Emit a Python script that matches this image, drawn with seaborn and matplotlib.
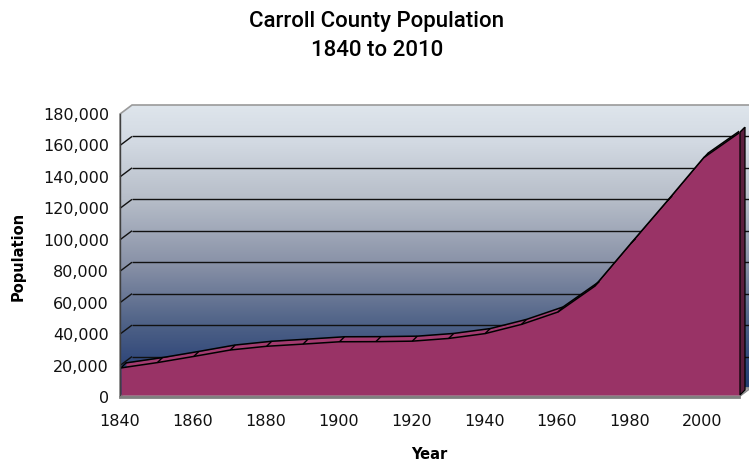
import numpy as np
import matplotlib
matplotlib.use("Agg")
import matplotlib.pyplot as plt
import seaborn as sns
from matplotlib.colors import LinearSegmentedColormap
from matplotlib.patches import Polygon
from matplotlib.collections import LineCollection
from matplotlib.transforms import ScaledTranslation, IdentityTransform
import matplotlib.ticker as mticker

# Census counts, Carroll County
years = [1840, 1850, 1860, 1870, 1880, 1890, 1900, 1910, 1920,
         1930, 1940, 1950, 1960, 1970, 1980, 1990, 2000, 2010]
population = [17241, 20616, 24533, 28619, 30992, 32376, 33860, 33934, 34245,
              35978, 39054, 44907, 52785, 69006, 96356, 123372, 150897, 167134]

y_ticks = list(range(0, 180001, 20000))
label_years = list(range(1840, 2001, 20))
minor_years = list(range(1850, 2011, 20))

sns.set_style("white")
plt.rcParams['font.family'] = ['DejaVu Sans']
plt.rcParams['text.color'] = 'black'
plt.rcParams['axes.labelcolor'] = 'black'

fig = plt.figure(figsize=(7.49, 4.61), dpi=100)
ax = fig.add_axes([120 / 749, 64 / 461, 619 / 749, 283 / 461])

# fake 3d depth offsets, in pixels
WALL = (12, 9)
FRONT = (1, 2)
BACK = (6, 7)


def shift(d):
    return ax.transData + ScaledTranslation(d[0] / fig.dpi, d[1] / fig.dpi, fig.dpi_scale_trans)


def px(xs, ys, d=(0, 0)):
    pts = ax.transData.transform(np.column_stack([np.atleast_1d(xs), np.atleast_1d(ys)]))
    return pts + np.array(d, dtype=float)


# series faces + outlines through seaborn
ax.fill_between(years, population, 0, transform=shift(BACK), color='#a33b6f', lw=0, zorder=4)
sns.lineplot(x=years, y=population, color='black', lw=1.1, transform=shift(BACK), ax=ax, zorder=4.2)
ax.fill_between(years, population, 0, transform=shift(FRONT), color='#993366', lw=0, zorder=5)
sns.lineplot(x=years, y=population, color='black', lw=1.1, transform=shift(FRONT), ax=ax, zorder=5.2)

ax.set_xlim(1840, 2010)
ax.set_ylim(0, 180000)
ax.patch.set_visible(False)

x0, x1 = 1840, 2010
y0, y1 = 0, 180000
fbl, ftl = px(x0, y0)[0], px(x0, y1)[0]
fbr = px(x1, y0)[0]
bbl, btl = px(x0, y0, WALL)[0], px(x0, y1, WALL)[0]
bbr, btr = px(x1, y0, WALL)[0], px(x1, y1, WALL)[0]

# walls with a vertical gradient
wall_cmap = LinearSegmentedColormap.from_list('wall', [
    (0.00, '#1d3a6e'), (0.12, '#31487a'), (0.25, '#4f6287'),
    (0.45, '#8790a6'), (0.68, '#b7bec9'), (0.88, '#d3dae3'), (1.00, '#dee5ec')])
grad = np.linspace(0, 1, 256).reshape(-1, 1)
img = ax.imshow(grad, cmap=wall_cmap, aspect='auto', origin='lower',
                extent=(fbl[0], btr[0], fbl[1], btr[1]),
                transform=IdentityTransform(), zorder=0)
wall_shape = Polygon([fbl, ftl, btl, btr, bbr, fbr], closed=True,
                     transform=IdentityTransform(), facecolor='none', edgecolor='none')
ax.add_patch(wall_shape)
img.set_clip_path(wall_shape)
img.set_clip_box(fig.bbox)
ax.set_xlim(1840, 2010)
ax.set_ylim(0, 180000)
ax.add_patch(Polygon([fbl, ftl, btl, btr, bbr, bbl], closed=True, transform=IdentityTransform(),
                     facecolor='none', edgecolor='#9a9a9a', lw=1.2, zorder=1.5, clip_on=False))

# gridlines on left wall and back wall
segs = []
for yv in y_ticks[1:-1]:
    a = px(x0, yv)[0]
    b = px(x0, yv, WALL)[0]
    c = px(x1, yv, WALL)[0]
    segs.append([a, b])
    segs.append([b, c])
ax.add_collection(LineCollection(segs, colors='#111111', lw=1.0, transform=IdentityTransform(),
                                 zorder=1, clip_on=False))

# floor
ax.add_patch(Polygon([fbl, fbr, bbr, bbl], closed=True, transform=IdentityTransform(),
                     facecolor='#a8a8a8', edgecolor='#8a8a8a', lw=0.8, zorder=2, clip_on=False))

# little edges joining front and back at each point
front_pts = px(years, population, FRONT)
back_pts = px(years, population, BACK)
ax.add_collection(LineCollection([[f, b] for f, b in zip(front_pts, back_pts)], colors='black',
                                 lw=1.0, transform=IdentityTransform(), zorder=5.3, clip_on=False))

# right end face
side = [px(x1, 0, FRONT)[0], front_pts[-1], back_pts[-1], px(x1, 0, BACK)[0]]
ax.add_patch(Polygon(side, closed=True, transform=IdentityTransform(), facecolor='#5b1f3e',
                     edgecolor='black', lw=0.9, zorder=5.5, clip_on=False))

# axes
for s in ['top', 'right']:
    ax.spines[s].set_visible(False)
ax.spines['left'].set_color('#404040')
ax.spines['left'].set_linewidth(1.0)
ax.spines['bottom'].set_color('#7f7f7f')
ax.spines['bottom'].set_linewidth(2.0)
ax.spines['left'].set_zorder(6)
ax.spines['bottom'].set_zorder(6)

ax.set_yticks(y_ticks)
ax.yaxis.set_major_formatter(mticker.FuncFormatter(lambda v, p: f'{int(v):,}'))
ax.set_xticks(label_years)
ax.set_xticks(minor_years, minor=True)
ax.tick_params(axis='both', which='both', direction='out', color='#222222', width=1.0,
               labelsize=11.5, labelcolor='#111111')
ax.tick_params(axis='y', length=5, pad=3)
ax.tick_params(axis='x', which='both', length=6, pad=6)
ax.grid(False)

ax.set_xlabel('Year', fontsize=10.5, fontweight='bold')
ax.set_ylabel('Population', fontsize=10.5, fontweight='bold')
ax.xaxis.set_label_coords(0.5, -0.175)
ax.yaxis.set_label_coords(-0.152, 0.495)

title_font = ['Roboto', 'DejaVu Sans']
fig.text(377 / 749, 1 - 22 / 461, 'Carroll County Population', ha='center', va='center',
         fontsize=16, family=title_font, fontweight='medium')
fig.text(377 / 749, 1 - 50 / 461, '1840 to 2010', ha='center', va='center',
         fontsize=16, family=title_font, fontweight='medium')

fig.savefig('out.png', dpi=100)
